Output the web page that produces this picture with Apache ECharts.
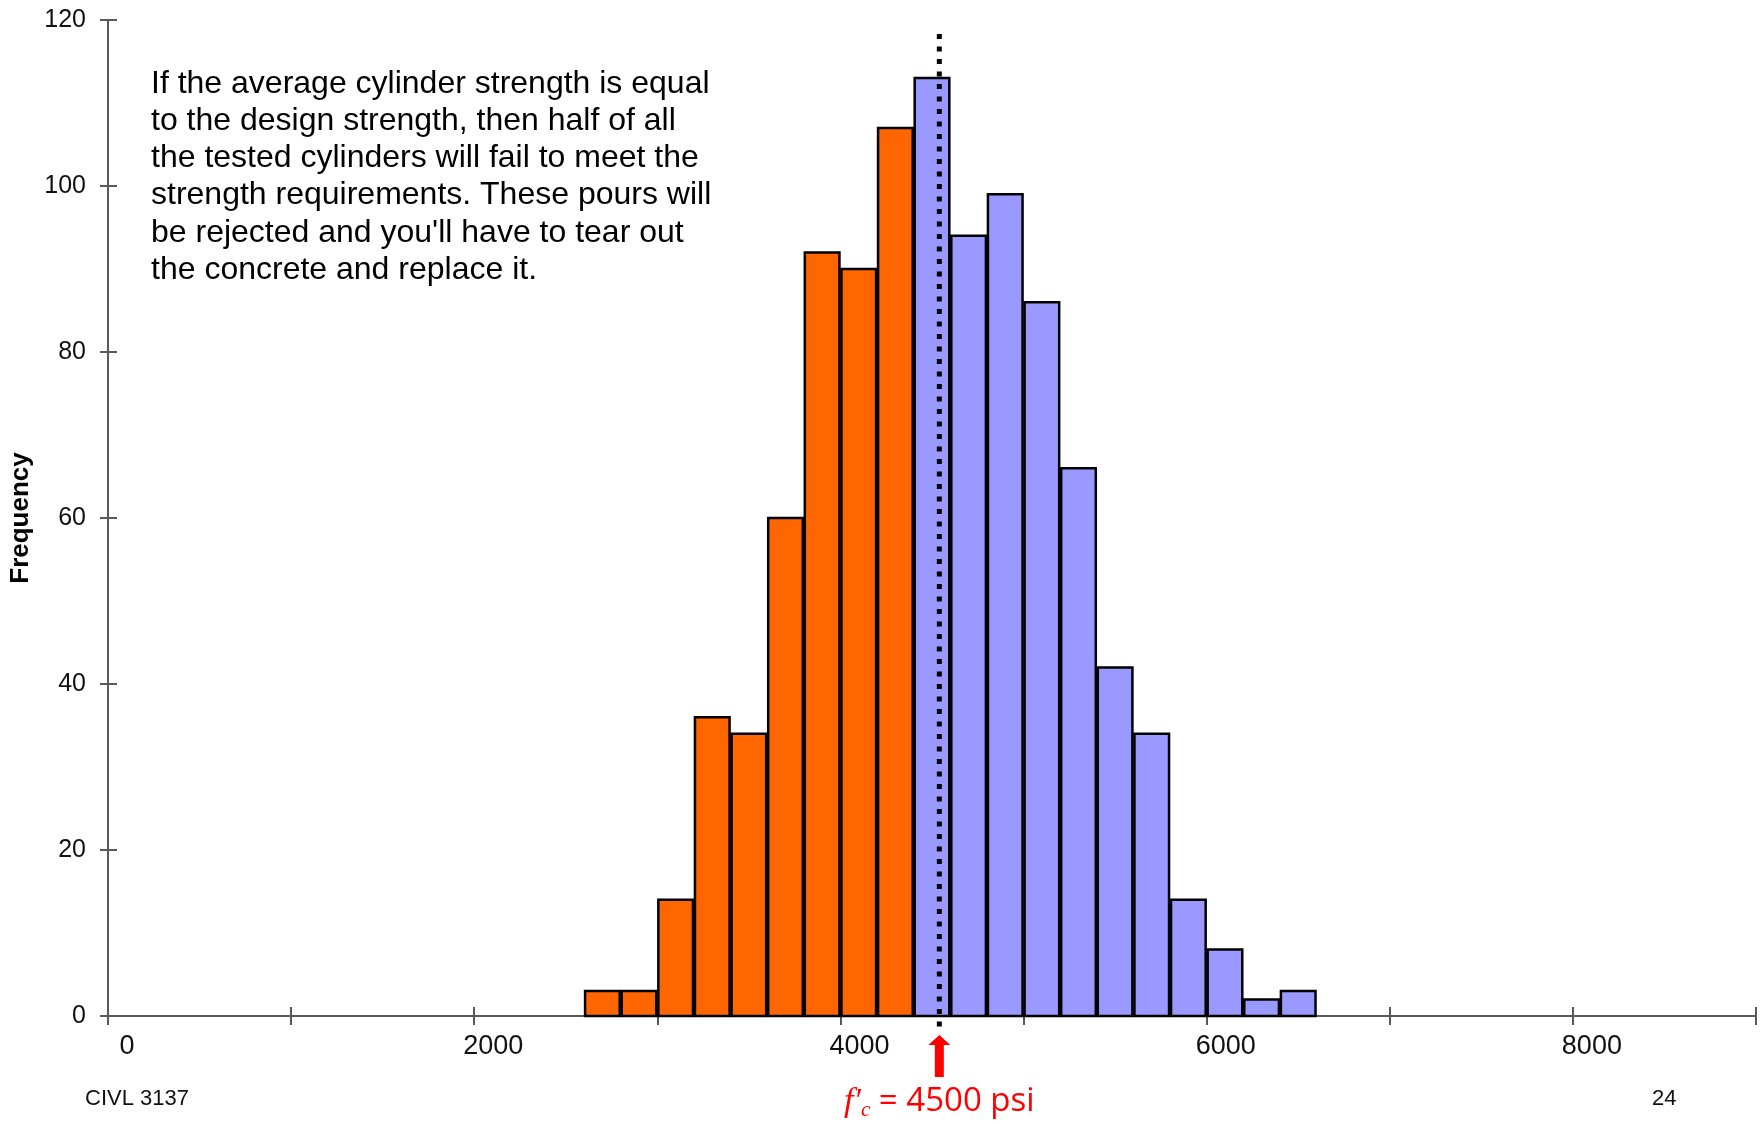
<!DOCTYPE html>
<html>
<head>
<meta charset="utf-8">
<style>
  html, body { margin: 0; padding: 0; background: #fff; }
  #chart { width: 1760px; height: 1124px; }
</style>
<script src="https://cdn.jsdelivr.net/npm/echarts@6/dist/echarts.min.js"></script>
</head>
<body>
<div id="chart"></div>
<script>
var chartDom = document.getElementById('chart');
var myChart = echarts.init(chartDom);

// histogram bins (psi), width 200
const binStart = [2600, 2800, 3000, 3200, 3400, 3600, 3800, 4000, 4200, 4400,
                  4600, 4800, 5000, 5200, 5400, 5600, 5800, 6000, 6200, 6400];
const counts   = [3, 3, 14, 36, 34, 60, 92, 90, 107, 113,
                  94, 99, 86, 66, 42, 34, 14, 8, 2, 3];
const binWidth = 200;
const failBelow = 4400;      // bins below this are orange (fail)
const lineX = 4540;          // where the dotted f'c line sits in the picture
const xTickLabels = [0, 2000, 4000, 6000, 8000];

const noteLines = [
    'If the average cylinder strength is equal',
    'to the design strength, then half of all',
    'the tested cylinders will fail to meet the',
    'strength requirements. These pours will',
    "be rejected and you'll have to tear out",
    'the concrete and replace it.'
];

const barData = binStart.map((b, i) => [b, counts[i]]);
const axisColor = '#595959';
const font = '"Liberation Sans", Arial, sans-serif';

var option = {
    backgroundColor: '#fff',
    animation: false,
    grid: { left: 108, right: 4, top: 20, bottom: 108, containLabel: false, outerBoundsMode: 'none' },
    xAxis: [
        {
            type: 'value', min: 0, max: 9000, interval: 1000,
            splitLine: { show: false },
            axisLine: { lineStyle: { color: axisColor, width: 2 } },
            axisTick: { length: 9, lineStyle: { color: axisColor, width: 2 } },
            axisLabel: {
                color: '#111', fontSize: 27, fontFamily: font, margin: 17,
                padding: [0, 0, 0, 38],
                formatter: v => xTickLabels.indexOf(v) >= 0 ? String(v) : ''
            }
        },
        {
            type: 'value', min: 0, max: 9000, interval: 1000, position: 'bottom',
            splitLine: { show: false },
            axisLine: { show: false },
            axisTick: { inside: true, length: 9, lineStyle: { color: axisColor, width: 2 } },
            axisLabel: { show: false }
        }
    ],
    yAxis: [
        {
            type: 'value', min: 0, max: 120, interval: 20, position: 'left',
            name: 'Frequency', nameLocation: 'middle', nameGap: 62,
            nameTextStyle: { fontSize: 26, fontWeight: 'bold', color: '#000', fontFamily: font },
            splitLine: { show: false },
            axisLine: { show: true, lineStyle: { color: axisColor, width: 2 } },
            axisTick: { show: true, length: 8, lineStyle: { color: axisColor, width: 2 } },
            axisLabel: { color: '#111', fontSize: 25, fontFamily: font, margin: 22 }
        },
        {
            type: 'value', min: 0, max: 120, interval: 20, position: 'left',
            splitLine: { show: false },
            axisLine: { show: false },
            axisTick: { show: true, inside: true, length: 9, lineStyle: { color: axisColor, width: 2 } },
            axisLabel: { show: false }
        }
    ],
    graphic: [
        {
            type: 'text', left: 151, top: 66, z: 10,
            style: {
                text: noteLines.join('\n'),
                fill: '#000', fontSize: 32, lineHeight: 33 * 1.1224, fontFamily: font
            }
        },
        {
            type: 'text', left: 85, top: 1088,
            style: { text: 'CIVL 3137', fill: '#111', fontSize: 22, fontFamily: font }
        },
        {
            type: 'text', left: 1652, top: 1088,
            style: { text: '24', fill: '#111', fontSize: 22, fontFamily: font }
        }
    ],
    series: [
        {
            name: 'cylinders',
            type: 'custom',
            data: barData,
            z: 3,
            renderItem: function (params, api) {
                var x0 = api.value(0), y = api.value(1);
                var p0 = api.coord([x0, y]);
                var p1 = api.coord([x0 + binWidth, 0]);
                return {
                    type: 'rect',
                    shape: { x: p0[0] + 1, y: p0[1], width: p1[0] - p0[0] - 2, height: p1[1] - p0[1] },
                    style: {
                        fill: x0 < failBelow ? '#FF6600' : '#9999FF',
                        stroke: '#000', lineWidth: 2.5
                    }
                };
            }
        },
        {
            name: 'design strength',
            type: 'custom',
            data: [[lineX, 118.3]],
            z: 5,
            clip: false,
            renderItem: function (params, api) {
                var top = api.coord([api.value(0), api.value(1)]);
                var base = api.coord([api.value(0), 0]);
                var x = base[0], y = base[1];
                return {
                    type: 'group',
                    children: [
                        {
                            type: 'line',
                            shape: { x1: x, y1: top[1], x2: x, y2: y + 14 },
                            style: { stroke: '#000', lineWidth: 5, lineDash: [5, 7.5] }
                        },
                        {
                            type: 'polygon',
                            shape: { points: [
                                [x, y + 19], [x + 11, y + 29], [x + 4.5, y + 29], [x + 4.5, y + 61],
                                [x - 4.5, y + 61], [x - 4.5, y + 29], [x - 11, y + 29]
                            ] },
                            style: { fill: '#FF0000' }
                        },
                        {
                            type: 'text',
                            x: x, y: y + 86,
                            style: {
                                text: '{f|f′}{c|c}{eq| = 4500 psi}',
                                align: 'center', verticalAlign: 'middle',
                                fill: '#FF0000',
                                rich: {
                                    f: { fontSize: 34, fontStyle: 'italic', fontFamily: '"Liberation Serif", serif', fill: '#FF0000' },
                                    c: { fontSize: 21, fontStyle: 'italic', fontFamily: '"Liberation Serif", serif', fill: '#FF0000', verticalAlign: 'bottom', padding: [16, 0, 0, 0] },
                                    eq: { fontSize: 33, fontFamily: '"Open Sans", sans-serif', fill: '#FF0000' }
                                }
                            }
                        }
                    ]
                };
            }
        }
    ]
};

option && myChart.setOption(option);
</script>
</body>
</html>
